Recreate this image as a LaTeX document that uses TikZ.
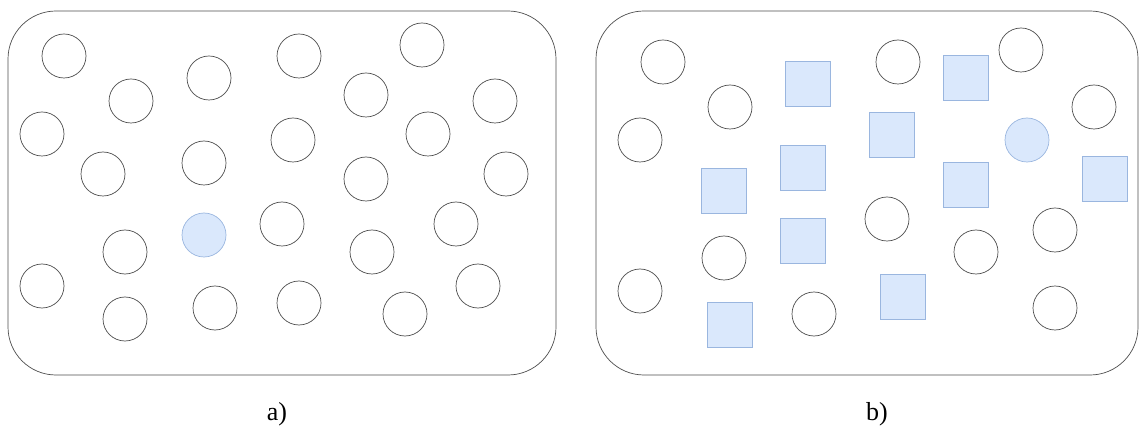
\documentclass[tikz,border=0pt]{standalone}
\usepackage{fontspec}
\setmainfont{Liberation Serif}
\usepackage{tikz}
\usetikzlibrary{positioning}
\usepackage{xcolor}
\definecolor{cink}{HTML}{4D4D4D}
\definecolor{washblue}{HTML}{DAE8FC}
\definecolor{cblue}{HTML}{9AB6DF}

\begin{document}
\begin{tikzpicture}[
  x=1pt, y=-1pt,
  frame/.style={draw=cink, line width=0.7pt, rounded corners=48pt},
  dot/.style={circle, draw=cink, line width=0.7pt, minimum size=44pt, inner sep=0pt},
  hit/.style={dot, fill=washblue, draw=cblue},
  sq/.style={draw=cblue, fill=washblue, line width=0.7pt, minimum size=45pt, inner sep=0pt},
  tag/.style={font=\fontsize{26}{31}\selectfont, inner sep=0pt},
]
\useasboundingbox (0,0) rectangle (1139,427);
% panel a
\draw[frame] (8,11) rectangle (556,375);
\node[dot] (a1) at (64,56) {};
\node[dot] (a2) at (131,101) {};
\node[dot] (a3) at (209,78) {};
\node[dot] (a4) at (299,56) {};
\node[dot] (a5) at (422,45) {};
\node[dot] (a6) at (366,95) {};
\node[dot] (a7) at (495,101) {};
\node[dot] (a8) at (42,134) {};
\node[dot] (a9) at (103,174) {};
\node[dot] (a10) at (204,163) {};
\node[dot] (a11) at (293,140) {};
\node[dot] (a12) at (428,134) {};
\node[dot] (a13) at (366,179) {};
\node[dot] (a14) at (506,174) {};
\node[hit] (aq) at (204,235) {};
\node[dot] (a16) at (282,224) {};
\node[dot] (a17) at (456,224) {};
\node[dot] (a18) at (125,252) {};
\node[dot] (a19) at (372,252) {};
\node[dot] (a20) at (42,286) {};
\node[dot] (a21) at (478,286) {};
\node[dot] (a22) at (125,319) {};
\node[dot] (a23) at (215,308) {};
\node[dot] (a24) at (299,303) {};
\node[dot] (a25) at (405,314) {};
\node[tag] (capa) at (277,414) {a)};
% panel b
\draw[frame] (596,11) rectangle (1138,375);
\node[dot] (b1) at (663,62) {};
\node[dot] (b2) at (730,107) {};
\node[dot] (b3) at (898,62) {};
\node[dot] (b4) at (1021,50) {};
\node[dot] (b5) at (1094,107) {};
\node[dot] (b6) at (640,140) {};
\node[hit] (bq) at (1027,140) {};
\node[dot] (b8) at (887,219) {};
\node[dot] (b9) at (1055,230) {};
\node[dot] (b10) at (724,258) {};
\node[dot] (b11) at (976,252) {};
\node[dot] (b12) at (640,291) {};
\node[dot] (b13) at (814,314) {};
\node[dot] (b14) at (1055,308) {};
\node[sq] (s1) at (808,84) {};
\node[sq] (s2) at (966,78) {};
\node[sq] (s3) at (892,135) {};
\node[sq] (s4) at (803,168) {};
\node[sq] (s5) at (724,191) {};
\node[sq] (s6) at (966,185) {};
\node[sq] (s7) at (1105,179) {};
\node[sq] (s8) at (803,241) {};
\node[sq] (s9) at (903,297) {};
\node[sq] (s10) at (730,325) {};
\node[tag] (capb) at (877,414) {b)};
\end{tikzpicture}
\end{document}
